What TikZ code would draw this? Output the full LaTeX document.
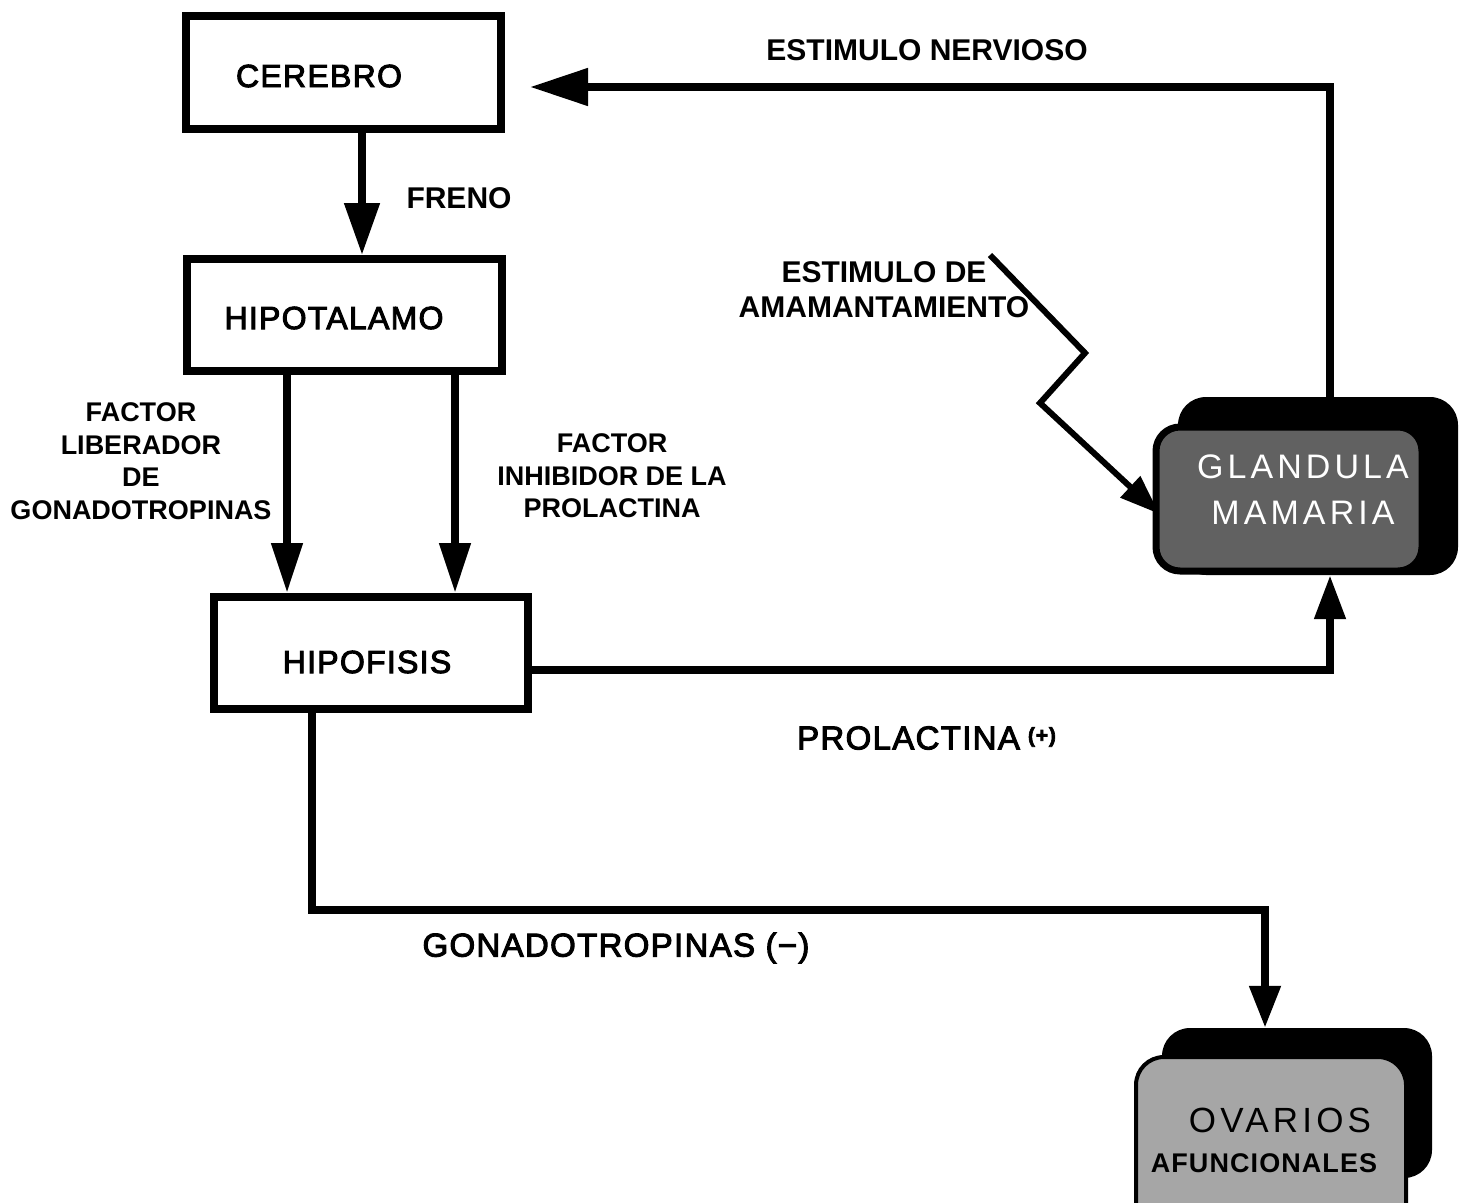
\documentclass[tikz,border=0pt]{standalone}
\usepackage{fontspec}
\setmainfont{Liberation Sans}
\newfontfamily\boxfont[LetterSpace=4,FakeBold=3]{Liberation Sans}
\newfontfamily\wfont[LetterSpace=12]{Liberation Sans}
\newfontfamily\wbfont[LetterSpace=4]{Liberation Sans Bold}
\usetikzlibrary{arrows.meta}
\begin{document}
\begin{tikzpicture}[x=1pt,y=-1pt,
  sqbox/.style={draw=black,line width=8pt,fill=white,inner sep=0pt},
  conn/.style={line width=8pt,-{Triangle[width=34pt,length=52pt]}},
  lbl/.style={font=\bfseries\fontsize{30}{35}\selectfont,align=center,inner sep=0pt},
  flbl/.style={font=\bfseries\fontsize{27}{32.5}\selectfont,align=center,inner sep=0pt},
  rlbl/.style={font=\boxfont\fontsize{32}{36}\selectfont,inner sep=0pt}]
\useasboundingbox (0,0) rectangle (1467,1202);
% boxes
\node[sqbox,minimum width=315pt,minimum height=113pt] (cereb) at (343.5,72.5) {};
\node[rlbl] (cerebt) at (319,76) {CEREBRO};
\node[sqbox,minimum width=315pt,minimum height=112pt] (hipot) at (344.5,315) {};
\node[rlbl] (hipott) at (334,318) {HIPOTALAMO};
\node[sqbox,minimum width=314pt,minimum height=112pt] (hipof) at (371,653) {};
\node[rlbl] (hipoft) at (367,662) {HIPOFISIS};
% glandula mamaria
\node[fill=black,rounded corners=28pt,minimum width=280pt,minimum height=178pt,inner sep=0pt] (glan) at (1318,486) {};
\node[draw=black,line width=7pt,fill=black!62,rounded corners=24pt,minimum width=266pt,minimum height=144pt,inner sep=0pt] (glanf) at (1289,499) {};
\node[font=\wfont\fontsize{34}{46}\selectfont,text=white,align=center,inner sep=0pt] (glant) at (1303,490) {GLANDULA\\MAMARIA};
% ovarios
\node[fill=black,rounded corners=28pt,minimum width=270pt,minimum height=150pt,inner sep=0pt] (ovar) at (1297,1103) {};
\node[draw=black,line width=4pt,fill=black!35,rounded corners=28pt,minimum width=270pt,minimum height=180pt,inner sep=0pt] (ovarf) at (1271,1147) {};
\node[font=\wfont\fontsize{35}{38}\selectfont,inner sep=0pt] (ovart) at (1280,1120) {OVARIOS};
\node[font=\wbfont\fontsize{27}{30}\selectfont,inner sep=0pt] (ovart2) at (1264,1163) {AFUNCIONALES};
% coordinates
\coordinate (xa) at (287,0);
\coordinate (xb) at (455,0);
\coordinate (c1) at (1330,670);
\coordinate (c2) at (1330,87);
\coordinate (c3) at (312,910);
\coordinate (c4) at (1265,910);
\coordinate (z0) at (990,255);
\coordinate (z1) at (1085,353);
\coordinate (z2) at (1040,403);
% connectors
\draw[conn] ([xshift=18.5pt]cereb.south) -- ([xshift=17.5pt]hipot.north);
\draw[conn,-{Triangle[width=30pt,length=50pt]}] (hipot.south -| xa) -- (hipof.north -| xa);
\draw[conn,-{Triangle[width=30pt,length=50pt]}] (hipot.south -| xb) -- (hipof.north -| xb);
\draw[conn,-{Triangle[width=30pt,length=44pt]}] (hipof.east |- c1) -- (c1) -- (glan.south -| c1);
\draw[conn,-{Triangle[width=36pt,length=58pt]},shorten >=25pt] (glan.north -| c2) -- (c2) -- (cereb.east |- c2);
\draw[conn,-{Triangle[width=30pt,length=42pt]}] (hipof.south -| c3) -- (c3) -- (c4) -- (ovar.north -| c4);
\draw[line width=6pt,-{Triangle[width=28pt,length=40pt]}] (z0) -- (z1) -- (z2) -- ([xshift=7pt,yshift=-15pt]glanf.west);
% labels
\node[lbl] (l1) at (927,50) {ESTIMULO NERVIOSO};
\node[lbl] (l2) at (459,198) {FRENO};
\node[lbl] (l3) at (884,290) {ESTIMULO DE\\AMAMANTAMIENTO};
\node[flbl] (l4) at (141,461) {FACTOR\\LIBERADOR\\DE\\GONADOTROPINAS};
\node[flbl] (l5) at (612,476) {FACTOR\\INHIBIDOR DE LA\\PROLACTINA};
\node[font=\boxfont\fontsize{33}{36}\selectfont,inner sep=0pt,anchor=west] (l6) at (797,738) {PROLACTINA\hspace{8pt}\raisebox{7pt}{\bfseries\fontsize{21}{22}\selectfont(+)}};
\node[font=\boxfont\fontsize{33}{36}\selectfont,inner sep=0pt] (l7) at (616,948) {GONADOTROPINAS (\textminus)};
\end{tikzpicture}
\end{document}
